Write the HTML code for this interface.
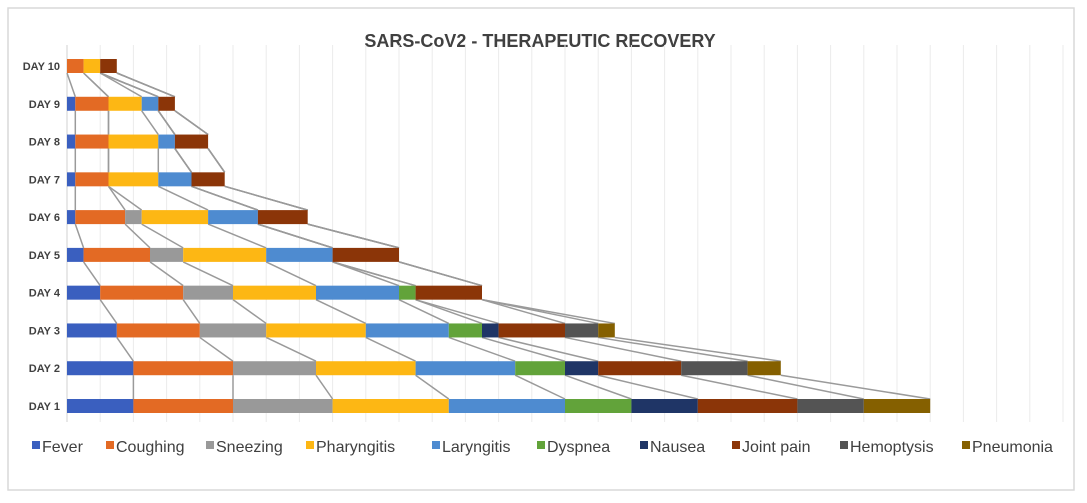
<!DOCTYPE html>
<html><head><meta charset="utf-8"><style>
body{margin:0;background:#fff;}
svg{display:block;font-family:"Liberation Sans",Arial,sans-serif;}
</style></head><body>
<svg id="chart" width="1087" height="503">
<rect x="8" y="8" width="1066" height="482" fill="#fff" stroke="#d9d9d9" stroke-width="1.5"/>
<text x="540" y="47" text-anchor="middle" font-size="18" font-weight="bold" fill="#404040">SARS-CoV2 - THERAPEUTIC RECOVERY</text>
<g id="grid"></g><g id="lines"></g><g id="bars"></g><g id="labels"></g><g id="legend"></g>
</svg>
<script>
const days = ["DAY 1","DAY 2","DAY 3","DAY 4","DAY 5","DAY 6","DAY 7","DAY 8","DAY 9","DAY 10"];
const seriesNames = ["Fever","Coughing","Sneezing","Pharyngitis","Laryngitis","Dyspnea","Nausea","Joint pain","Hemoptysis","Pneumonia"];
const colors = ["#3a5fbf","#e36a24","#999999","#fdb714","#4e8bd0","#62a33a","#1f3566","#8b3508","#545454","#856000"];
const fever = [2,2,1.5,1,0.5,0.25,0.25,0.25,0.25,0];
const coughing = [3,3,2.5,2.5,2,1.5,1,1,1,0.5];
const sneezing = [3,2.5,2,1.5,1,0.5,0,0,0,0];
const pharyngitis = [3.5,3,3,2.5,2.5,2,1.5,1.5,1,0.5];
const laryngitis = [3.5,3,2.5,2.5,2,1.5,1,0.5,0.5,0];
const dyspnea = [2,1.5,1,0.5,0,0,0,0,0,0];
const nausea = [2,1,0.5,0,0,0,0,0,0,0];
const jointPain = [3,2.5,2,2,2,1.5,1,1,0.5,0.5];
const hemoptysis = [2,2,1,0,0,0,0,0,0,0];
const pneumonia = [2,1,0.5,0,0,0,0,0,0,0];
const series = [fever,coughing,sneezing,pharyngitis,laryngitis,dyspnea,nausea,jointPain,hemoptysis,pneumonia];
const xMax = 30;
const NS="http://www.w3.org/2000/svg";
const x0=67, x1=1063, yTop=45, yBot=422, day1Y=406, day10Y=66, barH=14;
const xs = v => x0 + v/xMax*(x1-x0);
const ys = i => day1Y + i*(day10Y-day1Y)/(days.length-1);
function mk(tag, attrs, parent){const e=document.createElementNS(NS,tag);for(const k in attrs)e.setAttribute(k,attrs[k]);parent.appendChild(e);return e;}
const grid=document.getElementById('grid');
for(let v=0; v<=xMax; v++){
  const l=mk('line',{x1:xs(v),x2:xs(v),y1:yTop,y2:yBot,stroke:v===0?'#d0d0d0':'#ebebeb','stroke-width':1},grid);
  
  
}
const cum = days.map((d,i)=>{let s=0;return series.map(a=>{s+=a[i];return s;});});
const bars=document.getElementById('bars');
days.forEach((d,i)=>{
  let s=0;
  series.forEach((a,k)=>{
    if(a[i]>0){
      const r=mk('rect',{x:xs(s),y:ys(i)-barH/2,width:xs(s+a[i])-xs(s),height:barH,fill:colors[k]},bars);
      
      
    }
    s+=a[i];
  });
  const t=mk('text',{x:60,y:ys(i)+4,'text-anchor':'end','font-size':11,'font-weight':'bold',fill:'#404040'},document.getElementById('labels'));
  t.textContent=d;
  
  
});
const lines=document.getElementById('lines');
for(let i=0;i<days.length-1;i++){
  series.forEach((a,k)=>{
    const l=mk('line',{x1:xs(cum[i+1][k]),y1:ys(i+1)+barH/2,x2:xs(cum[i][k]),y2:ys(i)-barH/2,stroke:'#9a9a9a','stroke-width':1.5},lines);
    
    
  });
}
const legend=document.getElementById('legend');
const lx=[32,106,206,306,432,537,640,732,840,962];
seriesNames.forEach((n,k)=>{
  const g=mk('g',{},legend);
  
  
  mk('rect',{x:lx[k],y:441,width:8,height:8,fill:colors[k]},g);
  const t=mk('text',{x:lx[k]+10,y:452,'font-size':16,fill:'#404040'},g);
  t.textContent=n;
});
</script>
</body></html>
